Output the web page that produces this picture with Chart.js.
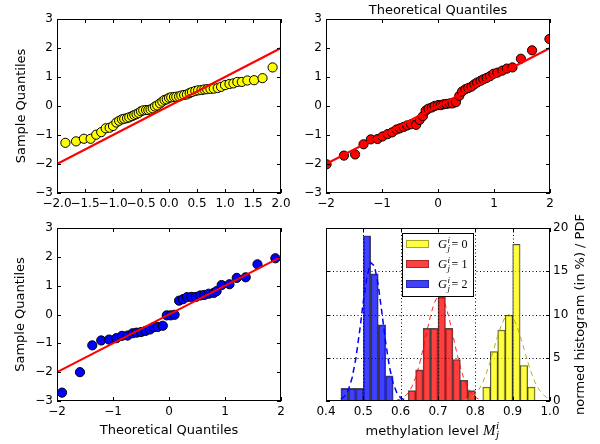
<!DOCTYPE html>
<html>
<head>
<meta charset="utf-8">
<script src="https://cdn.jsdelivr.net/npm/chart.js@4.4.0/dist/chart.umd.min.js"></script>
<style>
  html, body { margin: 0; padding: 0; background: #fff; }
  #wrap { position: relative; width: 600px; height: 444px; }
  #wrap canvas { position: absolute; left: 0; top: 0; }
</style>
</head>
<body>
<div id="wrap">
  <canvas id="qq1" width="600" height="444"></canvas>
  <canvas id="qq2" width="600" height="444"></canvas>
  <canvas id="qq3" width="600" height="444"></canvas>
  <canvas id="hist" width="600" height="444"></canvas>
</div>
<script>
// reference line y = x
const lineX = [-2, 2];
const lineY = [-2, 2];

// panel 1 (yellow)
const qq1X = [-1.85,-1.66,-1.52,-1.40,-1.30,-1.21,-1.13,-1.06,-1.00,-0.94,-0.89,-0.84,-0.80,-0.75,-0.71,-0.66,-0.62,-0.58,-0.54,-0.50,-0.46,-0.41,-0.37,-0.33,-0.29,-0.25,-0.21,-0.16,-0.12,-0.08,-0.04,0.00,0.04,0.09,0.13,0.18,0.22,0.27,0.32,0.37,0.41,0.47,0.52,0.58,0.63,0.68,0.74,0.80,0.87,0.93,1.00,1.08,1.15,1.22,1.30,1.40,1.52,1.67,1.85];
const qq1Y = [-1.27,-1.22,-1.13,-1.13,-0.99,-0.90,-0.77,-0.75,-0.69,-0.57,-0.51,-0.46,-0.44,-0.42,-0.39,-0.35,-0.31,-0.28,-0.24,-0.18,-0.15,-0.14,-0.14,-0.12,-0.08,-0.02,0.02,0.09,0.15,0.21,0.23,0.28,0.30,0.31,0.32,0.33,0.36,0.38,0.40,0.45,0.48,0.52,0.54,0.55,0.57,0.58,0.59,0.60,0.62,0.66,0.72,0.76,0.78,0.83,0.83,0.88,0.89,0.96,1.33];

// panel 2 (red)
const qq2X = [-1.99,-1.68,-1.48,-1.33,-1.20,-1.08,-0.99,-0.90,-0.82,-0.74,-0.68,-0.61,-0.55,-0.48,-0.39,-0.33,-0.27,-0.22,-0.17,-0.11,-0.06,0.00,0.05,0.10,0.15,0.21,0.26,0.32,0.38,0.43,0.49,0.54,0.60,0.65,0.70,0.76,0.81,0.87,0.93,0.99,1.06,1.15,1.23,1.33,1.48,1.68,1.99];
const qq2Y = [-2.01,-1.71,-1.67,-1.32,-1.15,-1.14,-1.05,-0.97,-0.91,-0.81,-0.77,-0.72,-0.67,-0.63,-0.65,-0.48,-0.35,-0.16,-0.09,-0.05,0.00,0.03,0.03,0.06,0.07,0.09,0.09,0.13,0.35,0.50,0.58,0.62,0.67,0.75,0.81,0.87,0.92,0.97,1.03,1.11,1.15,1.22,1.29,1.33,1.63,1.92,2.31];

// panel 3 (blue)
const qq3X = [-1.91,-1.59,-1.37,-1.21,-1.07,-0.94,-0.84,-0.74,-0.65,-0.58,-0.50,-0.42,-0.34,-0.27,-0.20,-0.11,-0.04,0.03,0.10,0.18,0.25,0.32,0.40,0.48,0.56,0.63,0.71,0.80,0.85,0.94,1.08,1.21,1.37,1.58,1.90];
const qq3Y = [-2.71,-2.00,-1.07,-0.90,-0.87,-0.82,-0.74,-0.73,-0.65,-0.63,-0.61,-0.57,-0.52,-0.44,-0.43,-0.39,-0.03,-0.03,-0.01,0.48,0.53,0.60,0.61,0.61,0.66,0.68,0.72,0.75,0.81,1.02,1.05,1.27,1.29,1.74,1.95];

// panel 4 histograms (bin centres, bin width 0.02)
const groups = ['0', '1', '2'];
const binsG0 = [0.83,0.85,0.87,0.89,0.91,0.93,0.95];
const histG0 = [1.6,5.7,8.2,9.9,18.1,4.1,1.6];
const binsG1 = [0.63,0.65,0.67,0.69,0.71,0.73,0.75,0.77,0.79];
const histG1 = [1.2,3.6,8.4,8.4,12.0,8.4,4.8,2.4,1.2];
const binsG2 = [0.45,0.47,0.49,0.51,0.53,0.55,0.57];
const histG2 = [1.46,1.46,1.46,19.1,14.7,8.8,2.9];

// panel 4 fitted PDFs
const pdfX0 = [0.77,0.78,0.79,0.80,0.81,0.82,0.83,0.84,0.85,0.86,0.87,0.88,0.89,0.90,0.91,0.92,0.93,0.94,0.95,0.96,0.97,0.98,0.99,1.00];
const pdfY0 = [0.11,0.23,0.44,0.80,1.35,2.16,3.25,4.58,6.07,7.55,8.82,9.69,10.0,9.69,8.82,7.55,6.07,4.58,3.25,2.16,1.35,0.80,0.44,0.23];
const pdfX1 = [0.59,0.60,0.61,0.62,0.63,0.64,0.65,0.66,0.67,0.68,0.69,0.70,0.71,0.72,0.73,0.74,0.75,0.76,0.77,0.78,0.79,0.80,0.81,0.82];
const pdfY1 = [0.11,0.24,0.48,0.93,1.65,2.73,4.20,6.01,8.0,9.89,11.36,12.13,12.04,11.11,9.53,7.60,5.63,3.88,2.49,1.48,0.82,0.42,0.20,0.09];
const pdfX2 = [0.44,0.45,0.46,0.47,0.48,0.49,0.50,0.51,0.52,0.53,0.54,0.55,0.56,0.57,0.58,0.59,0.60,0.61];
const pdfY2 = [0.20,0.54,1.28,2.69,4.94,8.04,11.49,14.46,16.0,15.6,13.39,10.12,6.72,3.93,2.01,0.92,0.37,0.13];

Chart.defaults.font.family = '"DejaVu Sans", sans-serif';
Chart.defaults.font.size = 12;
Chart.defaults.color = '#000';

const pts = (xs, ys) => xs.map((x, i) => ({ x, y: ys[i] }));
const minus = s => String(s).replace('-', '\u2212');

// black frame + inward ticks on all four sides
const frameTicks = {
  id: 'frameTicks',
  afterDatasetsDraw(chart) {
    const { ctx, chartArea: a, scales } = chart;
    const xs = scales.x, ys = scales.y;
    ctx.save();
    ctx.strokeStyle = '#000';
    ctx.lineWidth = 1;
    ctx.beginPath();
    xs.ticks.forEach((t, i) => {
      const px = Math.round(xs.getPixelForTick(i)) + 0.5;
      ctx.moveTo(px, a.bottom); ctx.lineTo(px, a.bottom - 4);
      ctx.moveTo(px, a.top); ctx.lineTo(px, a.top + 4);
    });
    ys.ticks.forEach((t, i) => {
      const py = Math.round(ys.getPixelForTick(i)) + 0.5;
      ctx.moveTo(a.left, py); ctx.lineTo(a.left + 4, py);
      ctx.moveTo(a.right, py); ctx.lineTo(a.right - 4, py);
    });
    ctx.stroke();
    ctx.strokeRect(a.left + 0.5, a.top + 0.5, a.right - a.left - 1, a.bottom - a.top - 1);
    ctx.restore();
  }
};

function qqChart(id, box, xs, ys, color, xStep, xDec, opts) {
  const plugins = [frameTicks];
  if (opts.topTitle) {
    plugins.push({
      id: 'topTitle',
      afterDraw(chart) {
        const { ctx, chartArea: a } = chart;
        ctx.save();
        ctx.font = '13px "DejaVu Sans"';
        ctx.fillStyle = '#000';
        ctx.textAlign = 'center';
        ctx.textBaseline = 'alphabetic';
        ctx.fillText(opts.topTitle, (a.left + a.right) / 2, 13.8);
        ctx.restore();
      }
    });
  }
  return new Chart(document.getElementById(id), {
    type: 'scatter',
    data: {
      datasets: [
        { type: 'line', data: pts(lineX, lineY), borderColor: '#ff0000', borderWidth: 2, pointRadius: 0, clip: 0 },
        { data: pts(xs, ys), backgroundColor: color, borderColor: '#000', borderWidth: 1, pointRadius: 4.6, clip: 0 }
      ]
    },
    options: {
      responsive: false,
      animation: false,
      events: [],
      layout: { padding: { top: box.top, right: 600 - box.right, left: 0, bottom: 0 } },
      plugins: { legend: { display: false }, tooltip: { enabled: false } },
      scales: {
        x: {
          type: 'linear', min: -2, max: 2,
          afterFit: s => { s.height = 444 - box.bottom; },
          grid: { display: false, drawTicks: false }, border: { display: false },
          ticks: { stepSize: xStep, autoSkip: false, maxRotation: 0, minRotation: 0, padding: 4,
                   callback: v => minus(Number(v).toFixed(xDec)) },
          title: opts.xTitle ? { display: true, text: opts.xTitle, font: { size: 13 }, padding: { top: 0, bottom: 6 } } : { display: false }
        },
        y: {
          type: 'linear', min: -3, max: 3,
          afterFit: s => { s.width = box.left; },
          grid: { display: false, drawTicks: false }, border: { display: false },
          ticks: { stepSize: 1, padding: 4, callback: v => minus(v) },
          title: opts.yTitle ? { display: true, text: opts.yTitle, font: { size: 13 }, padding: { top: opts.yPad, bottom: 0 } } : { display: false }
        }
      }
    },
    plugins
  });
}

qqChart('qq1', { left: 57, right: 281, top: 19, bottom: 193 }, qq1X, qq1Y, '#ffff00', 0.5, 1,
  { yTitle: 'Sample Quantiles', yPad: 14 });
qqChart('qq2', { left: 326, right: 550, top: 19, bottom: 193 }, qq2X, qq2Y, '#ff0000', 1, 0,
  { topTitle: 'Theoretical Quantiles' });
qqChart('qq3', { left: 57, right: 281, top: 228, bottom: 401 }, qq3X, qq3Y, '#0000ff', 1, 0,
  { yTitle: 'Sample Quantiles', yPad: 13, xTitle: 'Theoretical Quantiles' });

// ---- histogram panel ----
const barColors = ['rgba(255,255,0,0.75)', 'rgba(255,0,0,0.75)', 'rgba(0,0,255,0.75)'];

function drawMath(ctx, x, y, base, sup, sub, size) {
  ctx.font = 'italic ' + size + 'px "Liberation Serif"';
  ctx.fillText(base, x, y);
  const w = ctx.measureText(base).width;
  const small = Math.round(size * 0.7);
  ctx.font = 'italic ' + small + 'px "Liberation Serif"';
  ctx.fillText(sup, x + w + 0.5, y - size * 0.4);
  ctx.fillText(sub, x + w + 0.5, y + size * 0.25);
  return x + w + 0.5 + Math.max(ctx.measureText(sup).width, ctx.measureText(sub).width);
}

const histGrid = {
  id: 'histGrid',
  beforeDatasetsDraw(chart) {
    const { ctx, chartArea: a, scales } = chart;
    ctx.save();
    ctx.strokeStyle = '#000';
    ctx.lineWidth = 1;
    ctx.setLineDash([1, 2.5]);
    ctx.beginPath();
    scales.x.ticks.forEach((t, i) => {
      const px = Math.round(scales.x.getPixelForTick(i)) + 0.5;
      if (px - a.left < 2 || a.right - px < 2) return;
      ctx.moveTo(px, a.top); ctx.lineTo(px, a.bottom);
    });
    scales.y.ticks.forEach((t, i) => {
      const py = Math.round(scales.y.getPixelForTick(i)) + 0.5;
      if (py - a.top < 2 || a.bottom - py < 2) return;
      ctx.moveTo(a.left, py); ctx.lineTo(a.right, py);
    });
    ctx.stroke();
    ctx.restore();
  }
};

const histText = {
  id: 'histText',
  afterDraw(chart) {
    const { ctx, chartArea: a } = chart;
    ctx.save();
    ctx.fillStyle = '#000';
    ctx.textBaseline = 'alphabetic';

    // legend
    const lx = 402, ly = 233, lw = 72, lh = 64;
    ctx.fillStyle = '#fff';
    ctx.fillRect(lx, ly, lw, lh);
    ctx.strokeStyle = '#000';
    ctx.lineWidth = 1;
    ctx.strokeRect(lx + 0.5, ly + 0.5, lw - 1, lh - 1);
    groups.forEach((g, i) => {
      const cy = 244 + i * 20;
      ctx.fillStyle = barColors[i];
      ctx.fillRect(406, cy - 4, 23, 8);
      ctx.strokeStyle = 'rgba(0,0,0,0.35)';
      ctx.strokeRect(406.5, cy - 3.5, 22, 7);
      ctx.fillStyle = '#000';
      const xe = drawMath(ctx, 438, cy + 4.2, 'G', 'i', 'j', 12.5);
      ctx.font = '12px "Liberation Serif"';
      ctx.fillText('=', xe + 1.5, cy + 4.2);
      ctx.fillText(g, xe + 11.5, cy + 4.2);
    });

    // x title with math
    ctx.fillStyle = '#000';
    ctx.font = '13px "DejaVu Sans"';
    const t1 = 'methylation level ';
    const w1 = ctx.measureText(t1).width;
    ctx.font = 'italic 15px "Liberation Serif"';
    const wM = ctx.measureText('M').width + 5;
    let x0 = 433 - (w1 + wM) / 2;
    ctx.font = '13px "DejaVu Sans"';
    ctx.fillText(t1, x0, 434.5);
    drawMath(ctx, x0 + w1, 434.5, 'M', 'i', 'j', 15);

    // right axis title
    ctx.font = '13px "DejaVu Sans"';
    ctx.textAlign = 'center';
    ctx.textBaseline = 'middle';
    ctx.translate(581, (a.top + a.bottom) / 2);
    ctx.rotate(-Math.PI / 2);
    ctx.fillText('normed histogram (in %) / PDF', 0, 0);
    ctx.restore();
  }
};

const barSet = (bins, vals, i) => ({
  type: 'bar', data: pts(bins, vals), backgroundColor: barColors[i],
  borderColor: 'rgba(0,0,0,0.7)', borderWidth: 1, grouped: false,
  barPercentage: 1, categoryPercentage: 1, label: groups[i]
});
const pdfSet = (xs, ys, color, width, dash) => ({
  type: 'line', data: pts(xs, ys), borderColor: color, borderWidth: width,
  borderDash: dash, pointRadius: 0, fill: false, clip: 0
});

new Chart(document.getElementById('hist'), {
  type: 'bar',
  data: {
    datasets: [
      pdfSet(pdfX2, pdfY2, '#0000ff', 1.5, [6, 4]),
      pdfSet(pdfX1, pdfY1, 'rgba(255,0,0,0.85)', 1, [5, 4]),
      pdfSet(pdfX0, pdfY0, 'rgba(170,170,0,0.9)', 1, [5, 4]),
      barSet(binsG0, histG0, 0),
      barSet(binsG1, histG1, 1),
      barSet(binsG2, histG2, 2)
    ]
  },
  options: {
    responsive: false,
    animation: false,
    events: [],
    layout: { padding: { top: 228, right: 0, left: 0, bottom: 0 } },
    plugins: { legend: { display: false }, tooltip: { enabled: false } },
    scales: {
      x: {
        type: 'linear', min: 0.4, max: 1.0, offset: false,
        afterFit: s => { s.height = 444 - 401; },
        grid: { display: false, drawTicks: false }, border: { display: false },
        ticks: { stepSize: 0.1, autoSkip: false, maxRotation: 0, minRotation: 0, padding: 4,
                 callback: v => Number(v).toFixed(1) }
      },
      y: {
        type: 'linear', position: 'left', min: 0, max: 20, beginAtZero: true,
        afterFit: s => { s.width = 326; },
        grid: { display: false, drawTicks: false }, border: { display: false },
        ticks: { stepSize: 5, display: false }
      },
      y2: {
        type: 'linear', position: 'right', min: 0, max: 20,
        afterFit: s => { s.width = 50; },
        grid: { display: false, drawTicks: false }, border: { display: false },
        ticks: { stepSize: 5, padding: 3 }
      }
    }
  },
  plugins: [histGrid, frameTicks, histText]
});
</script>
</body>
</html>
